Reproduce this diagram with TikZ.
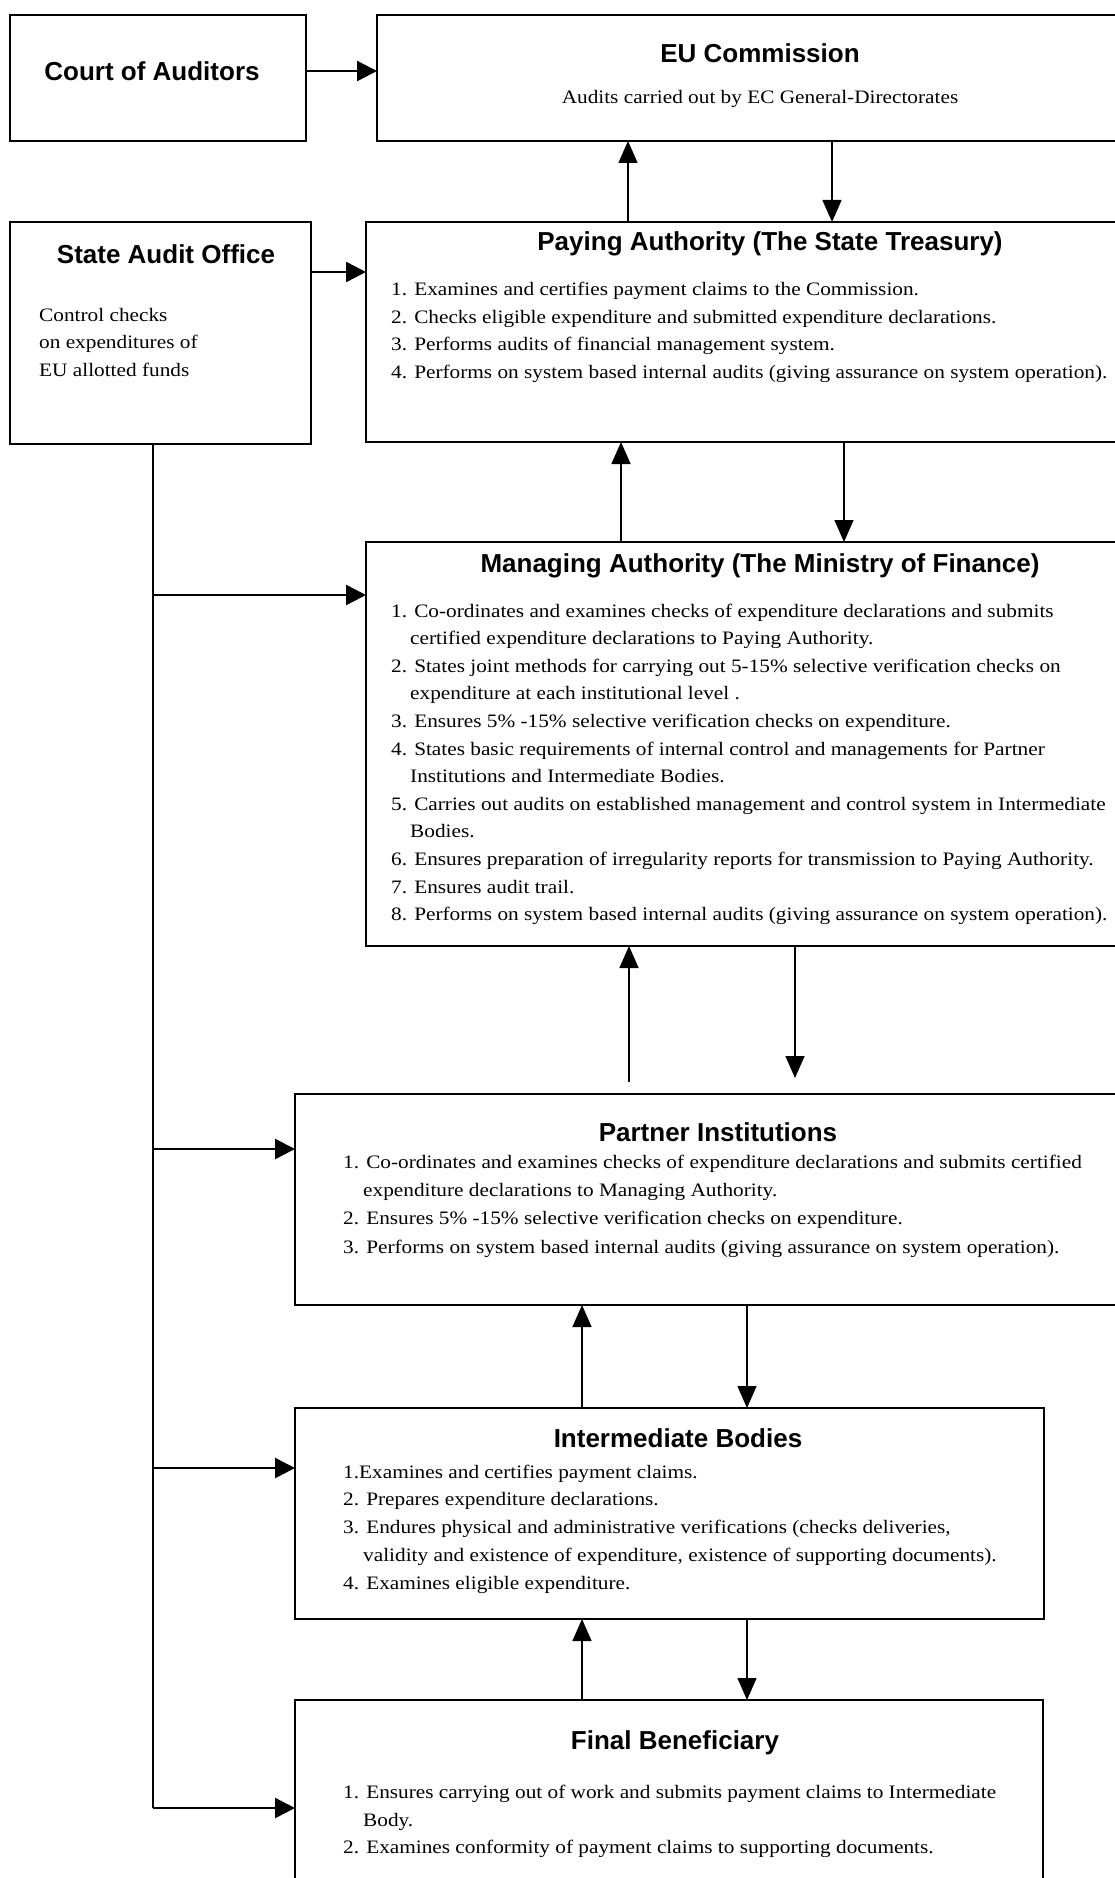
\documentclass[tikz,border=0pt]{standalone}
\usepackage{fontspec}
\setmainfont{Liberation Serif}
\newfontfamily\bodyfam{Liberation Serif}[FakeStretch=1.12]
\newfontfamily\titlefam{Liberation Sans}
\usetikzlibrary{arrows.meta,calc}
\tikzset{
  box/.style={draw, line width=2pt, inner sep=0pt, outer sep=0pt, anchor=north west},
  ttl/.style={font=\titlefam\bfseries\fontsize{26}{30}\selectfont, anchor=base, inner sep=0pt},
  body/.style={font=\bodyfam\fontsize{19}{23}\selectfont, anchor=base west, inner sep=0pt},
  bodyc/.style={font=\bodyfam\fontsize{19}{23}\selectfont, anchor=base, inner sep=0pt},
  conn/.style={line width=1.5pt, -{Triangle[length=22pt,width=19pt]}},
  side/.style={line width=2.5pt, -{Triangle[length=20pt,width=20pt]}},
  trunk/.style={line width=1.5pt}
}
\newcommand{\bline}[4]{\node[body] (#1) at (#2,#3) {#4};}
\begin{document}
\begin{tikzpicture}[x=1pt,y=-1pt]
\useasboundingbox (0,0) rectangle (1115,1878);
\clip (0,0) rectangle (1115,1878);
% boxes
\node[box, minimum width=296pt, minimum height=126pt] (CA) at (10,15) {};
\node[box, minimum width=766pt, minimum height=126pt] (EU) at (377,15) {};
\node[box, minimum width=301pt, minimum height=222pt] (SAO) at (10,222) {};
\node[box, minimum width=808pt, minimum height=220pt] (PA) at (366,222) {};
\node[box, minimum width=808pt, minimum height=404pt] (MA) at (366,542) {};
\node[box, minimum width=846pt, minimum height=211pt] (PI) at (295,1094) {};
\node[box, minimum width=749pt, minimum height=211pt] (IB) at (295,1408) {};
\node[box, minimum width=748pt, minimum height=200pt] (FB) at (295,1700) {};
% titles
\node[ttl] (CAt) at (152,81) {Court of Auditors};
\node[ttl] (EUt) at (760,63) {EU Commission};
\node[bodyc] (EUs) at (760,104) {Audits carried out by EC General-Directorates};
\node[ttl] (SAOt) at (166,264) {State Audit Office};
\node[ttl] (PAt) at (770,251) {Paying Authority (The State Treasury)};
\node[ttl] (MAt) at (760,572) {Managing Authority (The Ministry of Finance)};
\node[ttl] (PIt) at (718,1141) {Partner Institutions};
\node[ttl] (IBt) at (678,1447) {Intermediate Bodies};
\node[ttl] (FBt) at (675,1749) {Final Beneficiary};
% State Audit Office text
\bline{sao1}{39}{321}{Control checks}
\bline{sao2}{39}{348}{on expenditures of}
\bline{sao3}{39}{376}{EU allotted funds}
% Paying Authority
\bline{pa1}{391}{295.5}{1. Examines and certifies payment claims to the Commission.}
\bline{pa2}{391}{323}{2. Checks eligible expenditure and submitted expenditure declarations.}
\bline{pa3}{391}{350.5}{3. Performs audits of financial management system.}
\bline{pa4}{391}{378}{4. Performs on system based internal audits (giving assurance on system operation).}
% Managing Authority
\bline{ma1}{391}{617}{1. Co-ordinates and examines checks of expenditure declarations and submits}
\bline{ma1b}{410}{644.6}{certified expenditure declarations to Paying Authority.}
\bline{ma2}{391}{672.2}{2. States joint methods for carrying out 5-15\% selective verification checks on}
\bline{ma2b}{410}{699.8}{expenditure at each institutional level .}
\bline{ma3}{391}{727.4}{3. Ensures 5\% -15\% selective verification checks on expenditure.}
\bline{ma4}{391}{755}{4. States basic requirements of internal control and managements for Partner}
\bline{ma4b}{410}{782.6}{Institutions and Intermediate Bodies.}
\bline{ma5}{391}{810.2}{5. Carries out audits on established management and control system in Intermediate}
\bline{ma5b}{410}{837.8}{Bodies.}
\bline{ma6}{391}{865.4}{6. Ensures preparation of irregularity reports for transmission to Paying Authority.}
\bline{ma7}{391}{893}{7. Ensures audit trail.}
\bline{ma8}{391}{920.6}{8. Performs on system based internal audits (giving assurance on system operation).}
% Partner Institutions
\bline{pi1}{343}{1168}{1. Co-ordinates and examines checks of expenditure declarations and submits certified}
\bline{pi1b}{363}{1196}{expenditure declarations to Managing Authority.}
\bline{pi2}{343}{1224.5}{2. Ensures 5\% -15\% selective verification checks on expenditure.}
\bline{pi3}{343}{1253}{3. Performs on system based internal audits (giving assurance on system operation).}
% Intermediate Bodies
\bline{ib1}{343}{1478}{1.Examines and certifies payment claims.}
\bline{ib2}{343}{1505.8}{2. Prepares expenditure declarations.}
\bline{ib3}{343}{1533.6}{3. Endures physical and administrative verifications (checks deliveries,}
\bline{ib3b}{363}{1561.4}{validity and existence of expenditure, existence of supporting documents).}
\bline{ib4}{343}{1589.2}{4. Examines eligible expenditure.}
% Final Beneficiary
\bline{fb1}{343}{1798}{1. Ensures carrying out of work and submits payment claims to Intermediate}
\bline{fb1b}{363}{1826}{Body.}
\bline{fb2}{343}{1853}{2. Examines conformity of payment claims to supporting documents.}
% horizontal arrows at top
\draw[side] (CA.east |- 0,71) -- (EU.west |- 0,71);
\draw[side] (SAO.east |- 0,272) -- (PA.west |- 0,272);
% vertical connectors
\draw[conn] (628,0 |- PA.north) -- (628,0 |- EU.south);
\draw[conn] (832,0 |- EU.south) -- (832,0 |- PA.north);
\draw[conn] (621,0 |- MA.north) -- (621,0 |- PA.south);
\draw[conn] (844,0 |- PA.south) -- (844,0 |- MA.north);
\draw[conn, shorten <=12pt] (629,0 |- PI.north) -- (629,0 |- MA.south);
\draw[conn, shorten >=16pt] (795,0 |- MA.south) -- (795,0 |- PI.north);
\draw[conn] (582,0 |- IB.north) -- (582,0 |- PI.south);
\draw[conn] (747,0 |- PI.south) -- (747,0 |- IB.north);
\draw[conn] (582,0 |- FB.north) -- (582,0 |- IB.south);
\draw[conn] (747,0 |- IB.south) -- (747,0 |- FB.north);
% trunk from State Audit Office
\coordinate (j1) at (153,595);
\coordinate (j2) at (153,1149);
\coordinate (j3) at (153,1468);
\coordinate (j4) at (153,1808);
\draw[trunk] (153,0 |- SAO.south) -- (j4);
\draw[side] (j1) -- (j1 -| MA.west);
\draw[side] (j2) -- (j2 -| PI.west);
\draw[side] (j3) -- (j3 -| IB.west);
\draw[side] (j4) -- (j4 -| FB.west);
\end{tikzpicture}
\end{document}
